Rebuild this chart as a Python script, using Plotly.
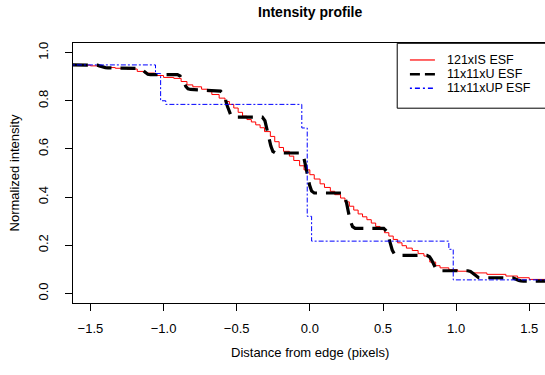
import plotly.graph_objects as go

# ---- data ----
red_x = [-1.62, -1.55, -1.50, -1.45, -1.40, -1.33, -1.25, -1.18, -1.13, -1.06, -1.00, -0.93, -0.88,
         -0.84, -0.80, -0.74, -0.70, -0.67, -0.62, -0.58, -0.55, -0.52, -0.49, -0.46, -0.43, -0.40,
         -0.37, -0.34, -0.31, -0.27, -0.24, -0.21, -0.18, -0.14, -0.11, -0.07, -0.04, 0.00, 0.03,
         0.07, 0.10, 0.14, 0.17, 0.21, 0.24, 0.27, 0.30, 0.33, 0.36, 0.39, 0.42, 0.45, 0.48, 0.51,
         0.54, 0.57, 0.60, 0.63, 0.66, 0.70, 0.74, 0.78, 0.82, 0.86, 0.89, 0.95, 1.01, 1.10, 1.21,
         1.34, 1.42, 1.50, 1.62]
red_y = [0.950, 0.948, 0.945, 0.942, 0.938, 0.935, 0.932, 0.922, 0.915, 0.905, 0.897, 0.893, 0.880,
         0.866, 0.858, 0.848, 0.838, 0.826, 0.811, 0.797, 0.785, 0.770, 0.752, 0.736, 0.722, 0.712,
         0.700, 0.688, 0.672, 0.652, 0.630, 0.606, 0.590, 0.570, 0.552, 0.530, 0.513, 0.493, 0.475,
         0.455, 0.440, 0.424, 0.410, 0.396, 0.380, 0.362, 0.346, 0.330, 0.318, 0.306, 0.292, 0.278,
         0.265, 0.252, 0.238, 0.224, 0.210, 0.198, 0.188, 0.178, 0.165, 0.155, 0.130, 0.115, 0.106,
         0.098, 0.092, 0.085, 0.079, 0.072, 0.065, 0.058, 0.055]

black_x = [-1.62,
           -1.47, -1.452, -1.438, -1.426, -1.412, -1.398, -1.38,
           -1.18, -1.162, -1.148, -1.136, -1.122, -1.108, -1.09,
           -0.905, -0.887, -0.873, -0.861, -0.847, -0.833, -0.815,
           -0.61, -0.592, -0.578, -0.566, -0.552, -0.538, -0.52,
           -0.325, -0.307, -0.293, -0.281, -0.267, -0.253, -0.235,
           -0.06, -0.042, -0.028, -0.016, -0.002, 0.012, 0.03,
           0.22, 0.238, 0.252, 0.264, 0.278, 0.292, 0.31,
           0.505, 0.523, 0.537, 0.549, 0.563, 0.577, 0.595,
           0.80, 0.818, 0.832, 0.844, 0.858, 0.872, 0.89,
           1.08, 1.098, 1.112, 1.124, 1.138, 1.152, 1.17,
           1.37, 1.388, 1.402, 1.414, 1.428, 1.442, 1.46,
           1.62]
black_y = [0.949,
           0.949, 0.948, 0.945, 0.942, 0.939, 0.938, 0.937,
           0.937, 0.934, 0.929, 0.922, 0.915, 0.910, 0.909,
           0.909, 0.903, 0.890, 0.875, 0.859, 0.850, 0.847,
           0.840, 0.829, 0.808, 0.781, 0.754, 0.737, 0.732,
           0.732, 0.717, 0.687, 0.650, 0.613, 0.590, 0.583,
           0.583, 0.566, 0.533, 0.492, 0.450, 0.425, 0.417,
           0.417, 0.402, 0.373, 0.336, 0.299, 0.277, 0.270,
           0.270, 0.259, 0.236, 0.208, 0.180, 0.164, 0.158,
           0.158, 0.152, 0.139, 0.123, 0.107, 0.097, 0.094,
           0.094, 0.091, 0.085, 0.078, 0.071, 0.066, 0.065,
           0.065, 0.064, 0.061, 0.057, 0.054, 0.052, 0.051,
           0.051]

blue_x = [-1.62, -1.055, -1.02, -0.985, -0.055, -0.018, 0.012, 0.950, 0.980, 1.62]
blue_y = [0.949, 0.913, 0.800, 0.785, 0.687, 0.320, 0.217, 0.183, 0.056, 0.056]

x_ticks = [-1.5, -1.0, -0.5, 0.0, 0.5, 1.0, 1.5]
x_ticktext = ["\u22121.5", "\u22121.0", "\u22120.5", "0.0", "0.5", "1.0", "1.5"]
y_ticks = [0.0, 0.2, 0.4, 0.6, 0.8, 1.0]
y_ticktext = ["0.0", "0.2", "0.4", "0.6", "0.8", "1.0"]

series_names = ["121xIS ESF", "11x11xU ESF", "11x11xUP ESF"]

FONT = "Liberation Sans, Arial, Helvetica, sans-serif"

# ---- layout geometry (pixels) ----
W, H = 545, 375
L, R, T, B = 73.3, 0.0, 43.0, 71.6
pw = W - L - R
ph = H - T - B
PX_PER_UNIT_X = 146.2
X_ZERO_PX = 310.0


def px2paper_x(px):
    return (px - L) / pw


def px2paper_y(py):
    return (H - B - py) / ph


fig = go.Figure()
fig.add_trace(go.Scatter(x=red_x, y=red_y, mode="lines", line=dict(color="red", width=1, shape="hv"),
                         name=series_names[0], showlegend=False))
fig.add_trace(go.Scatter(x=black_x, y=black_y, mode="lines",
                         line=dict(color="black", width=3.2, dash="15px,9px"),
                         name=series_names[1], showlegend=False))
fig.add_trace(go.Scatter(x=blue_x, y=blue_y, mode="lines",
                         line=dict(color="blue", width=1, shape="hv", dash="2px,2px,5px,2px"),
                         name=series_names[2], showlegend=False))

shapes = []
annotations = []

# legend box
shapes.append(dict(type="rect", xref="paper", yref="paper",
                   x0=px2paper_x(397.3), x1=px2paper_x(600), y0=px2paper_y(108.3), y1=px2paper_y(43.3),
                   line=dict(color="black", width=1), fillcolor="white", layer="above"))
leg_rows = [60.0, 74.3, 88.3]
leg_styles = [dict(color="red", width=1.2),
              dict(color="black", width=2.5, dash="10px,5px"),
              dict(color="blue", width=1.5, dash="2px,3px,5px,3px")]
for ry, st, nm in zip(leg_rows, leg_styles, series_names):
    shapes.append(dict(type="line", xref="paper", yref="paper",
                       x0=px2paper_x(410), x1=px2paper_x(435), y0=px2paper_y(ry), y1=px2paper_y(ry),
                       line=st, layer="above"))
    annotations.append(dict(xref="paper", yref="paper", x=px2paper_x(445), y=px2paper_y(ry),
                            xanchor="left", yanchor="middle", text=nm, showarrow=False,
                            font=dict(family=FONT, size=12.5, color="black")))

# titles
annotations.append(dict(xref="paper", yref="paper", x=px2paper_x(310), y=px2paper_y(12),
                        xanchor="center", yanchor="middle", text="<b>Intensity profile</b>",
                        showarrow=False, font=dict(family=FONT, size=14, color="black")))
annotations.append(dict(xref="paper", yref="paper", x=px2paper_x(310), y=px2paper_y(353),
                        xanchor="center", yanchor="middle", text="Distance from edge (pixels)",
                        showarrow=False, font=dict(family=FONT, size=13, color="black")))
annotations.append(dict(xref="paper", yref="paper", x=px2paper_x(15), y=px2paper_y(173),
                        xanchor="center", yanchor="middle", text="Normalized intensity", textangle=-90,
                        showarrow=False, font=dict(family=FONT, size=13, color="black")))

fig.update_layout(
    width=W, height=H,
    margin=dict(l=L, r=R, t=T, b=B, pad=0),
    paper_bgcolor="white", plot_bgcolor="white",
    showlegend=False,
    shapes=shapes, annotations=annotations,
    font=dict(family=FONT, size=13, color="black"),
)
fig.update_xaxes(range=[(L - X_ZERO_PX) / PX_PER_UNIT_X, (W - R - X_ZERO_PX) / PX_PER_UNIT_X],
                 tickvals=x_ticks, ticktext=x_ticktext,
                 showgrid=False, zeroline=False, showline=True, mirror=True, linecolor="black", linewidth=1,
                 ticks="outside", ticklen=7, tickcolor="black", tickwidth=1,
                 ticklabelstandoff=6, tickfont=dict(family=FONT, size=13, color="black"))
fig.update_yaxes(range=[-0.04, 1.04], tickvals=y_ticks, ticktext=y_ticktext, tickangle=-90,
                 showgrid=False, zeroline=False, showline=True, mirror=False, linecolor="black", linewidth=1,
                 ticks="outside", ticklen=7, tickcolor="black", tickwidth=1,
                 ticklabelstandoff=12, tickfont=dict(family=FONT, size=13, color="black"))

fig.write_html("out.html")
